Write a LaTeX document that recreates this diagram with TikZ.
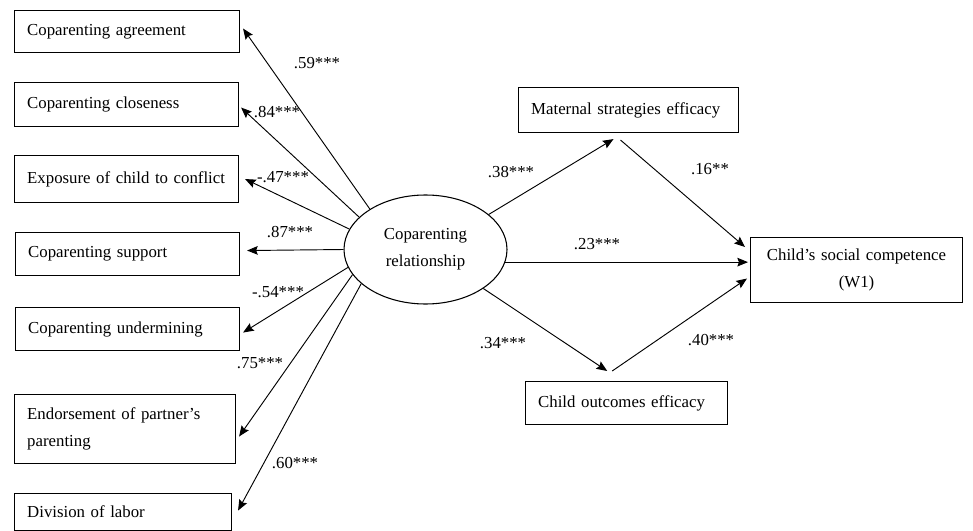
\documentclass[tikz,border=0pt]{standalone}
\usepackage{fontspec}
\setmainfont{Liberation Serif}
\usetikzlibrary{shapes.geometric,arrows.meta}
\begin{document}
\begin{tikzpicture}[x=0.75pt,y=-0.75pt,
  every node/.style={font=\fontsize{12.6pt}{20pt}\selectfont},
  box/.style={draw, line width=0.8pt, rectangle, anchor=north west, inner xsep=9.5pt, align=left},
  arr/.style={line width=0.7pt, -{Stealth[length=8pt,width=6.5pt,inset=1.2pt]}},
  lab/.style={inner sep=0pt}]
\useasboundingbox (0,0) rectangle (973,531);

% left boxes
\node[box, text width=149.75pt, minimum height=31.5pt] (agr) at (14,10) {Coparenting agreement};
\node[box, text width=149pt, minimum height=33pt] (clo) at (14,82) {Coparenting closeness};
\node[box, text width=149pt, minimum height=35.25pt] (exp) at (14,155) {Exposure of child to conflict};
\node[box, text width=149pt, minimum height=32.25pt] (sup) at (15,232) {Coparenting support};
\node[box, text width=149pt, minimum height=32.25pt] (und) at (15,307) {Coparenting undermining};
\node[box, text width=146.75pt, minimum height=51.75pt] (end) at (14,394) {Endorsement of partner’s\\parenting};
\node[box, text width=143.75pt, minimum height=27.75pt] (div) at (14,493) {Division of labor};

% central latent variable
\node[ellipse, draw, line width=0.8pt, minimum width=122.25pt, minimum height=81.75pt, inner sep=0pt, align=center] (ell) at (425.5,249.5) {Coparenting\\relationship};

% right boxes
\node[box, text width=146pt, minimum height=33.75pt] (mat) at (518,87) {Maternal strategies efficacy};
\node[box, text width=132.75pt, minimum height=32.25pt] (out) at (525,381) {Child outcomes efficacy};
\node[box, text width=140pt, minimum height=48.75pt, align=center] (csc) at (750,237) {Child’s social competence\\(W1)};

% connectors to indicators
\draw[arr] (ell.144) -- ([shift={(3,-3)}]agr.east);
\draw[arr] (ell.154) -- ([shift={(2,3)}]clo.east);
\draw[arr] (ell.165) -- ([shift={(6,0)}]exp.east);
\draw[arr] (ell.180) -- ([shift={(7,-3.5)}]sup.east);
\draw[arr] (ell.193) -- ([shift={(3,3.5)}]und.east);
\draw[arr] (ell.199) -- ([shift={(3,7.5)}]end.east);
\draw[arr] (ell.208) -- ([shift={(6,-1.5)}]div.east);

% mediation paths
\draw[arr] (ell.29) -- ([shift={(-15,6)}]mat.south);
\draw[arr] ([shift={(-8,7)}]mat.south) -- ([shift={(-5,10)}]csc.north west);
\draw[arr, shorten >=1.5pt] (ell.351) -- (ell.351 -| csc.west);
\draw[arr] (ell.326) -- ([shift={(-19.5,-10)}]out.north);
\draw[arr] ([shift={(-14.5,-10)}]out.north) -- ([shift={(-3,8.5)}]csc.west);

% coefficients
\node[lab] (l59) at (317,63) {.59***};
\node[lab] (l84) at (277,112) {.84***};
\node[lab] (l47) at (283,177) {-.47***};
\node[lab] (l87) at (290,232) {.87***};
\node[lab] (l54) at (278,292) {-.54***};
\node[lab] (l75) at (260,363) {.75***};
\node[lab] (l60) at (295,463) {.60***};
\node[lab] (l38) at (511,172) {.38***};
\node[lab] (l16) at (710,169) {.16**};
\node[lab] (l23) at (597,244) {.23***};
\node[lab] (l34) at (503,343) {.34***};
\node[lab] (l40) at (711,340) {.40***};
\end{tikzpicture}
\end{document}
